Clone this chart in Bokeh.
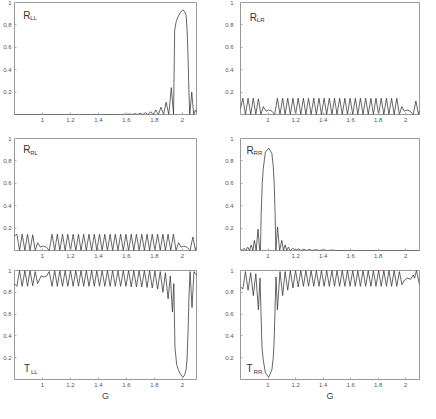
from bokeh.plotting import figure
from bokeh.layouts import gridplot
from bokeh.models import Range1d, FixedTicker, Label, CustomJSTickFormatter
from bokeh.embed import file_html
from bokeh.resources import INLINE

# ---------------- data ----------------
X_TICKS = [1.0, 1.2, 1.4, 1.6, 1.8, 2.0]
Y_TICKS = [0.2, 0.4, 0.6, 0.8, 1.0]

# R_LL
G_LL = [0.800, 1.570, 1.587, 1.605, 1.624, 1.642, 1.661, 1.680, 1.698, 1.717,
        1.735, 1.754, 1.772, 1.790, 1.809, 1.828, 1.846, 1.865, 1.883, 1.902,
        1.920, 1.936, 1.944, 1.955, 1.967, 1.985, 2.002, 2.015, 2.026, 2.033,
        2.040, 2.046, 2.052, 2.066, 2.080, 2.092, 2.100]
V_LL = [0.0, 0.0, 0.003, 0.0, 0.005, 0.0, 0.008, 0.0, 0.012, 0.0,
        0.017, 0.0, 0.025, 0.0, 0.04, 0.0, 0.065, 0.0, 0.11, 0.0,
        0.24, 0.0, 0.75, 0.83, 0.87, 0.91, 0.935, 0.92, 0.886, 0.75,
        0.5, 0.2, 0.0, 0.2, 0.0, 0.04, 0.02]

# R_LR
G_LR = [0.800, 0.817, 0.836, 0.855, 0.874, 0.893, 0.911, 0.930, 0.948, 0.965,
        0.985, 1.005, 1.028, 1.048,
        1.068, 1.087, 1.106, 1.124, 1.143, 1.162, 1.181, 1.200, 1.219, 1.238,
        1.257, 1.275, 1.294, 1.313, 1.332, 1.351, 1.370, 1.388, 1.407, 1.426,
        1.445, 1.464, 1.483, 1.501, 1.520, 1.539, 1.558, 1.577, 1.596, 1.615,
        1.634, 1.652, 1.671, 1.690, 1.709, 1.728, 1.747, 1.765, 1.784, 1.803,
        1.822, 1.841, 1.860, 1.878, 1.897, 1.916, 1.935,
        1.954, 1.972, 1.990, 2.010, 2.032, 2.054, 2.074, 2.093, 2.100]
V_LR = [0.05, 0.145, 0.0, 0.145, 0.0, 0.145, 0.0, 0.14, 0.0, 0.07,
        0.03, 0.04, 0.03, 0.0,
        0.145, 0.0, 0.145, 0.0, 0.145, 0.0, 0.145, 0.0, 0.145, 0.0,
        0.145, 0.0, 0.145, 0.0, 0.145, 0.0, 0.145, 0.0, 0.145, 0.0,
        0.145, 0.0, 0.145, 0.0, 0.145, 0.0, 0.145, 0.0, 0.145, 0.0,
        0.145, 0.0, 0.145, 0.0, 0.145, 0.0, 0.145, 0.0, 0.145, 0.0,
        0.145, 0.0, 0.145, 0.0, 0.145, 0.0, 0.145,
        0.0, 0.07, 0.03, 0.04, 0.03, 0.0, 0.12, 0.0, 0.03]

# R_RL
G_RL = [0.800, 0.817, 0.836, 0.855, 0.874, 0.893, 0.911, 0.930, 0.948, 0.965,
        0.985, 1.005, 1.028, 1.048,
        1.068, 1.087, 1.106, 1.124, 1.143, 1.162, 1.181, 1.200, 1.219, 1.238,
        1.257, 1.275, 1.294, 1.313, 1.332, 1.351, 1.370, 1.388, 1.407, 1.426,
        1.445, 1.464, 1.483, 1.501, 1.520, 1.539, 1.558, 1.577, 1.596, 1.615,
        1.634, 1.652, 1.671, 1.690, 1.709, 1.728, 1.747, 1.765, 1.784, 1.803,
        1.822, 1.841, 1.860, 1.878, 1.897, 1.916, 1.935,
        1.954, 1.972, 1.990, 2.010, 2.032, 2.054, 2.074, 2.093, 2.100]
V_RL = [0.13, 0.145, 0.0, 0.145, 0.0, 0.145, 0.0, 0.14, 0.0, 0.07,
        0.03, 0.04, 0.03, 0.0,
        0.145, 0.0, 0.145, 0.0, 0.145, 0.0, 0.145, 0.0, 0.145, 0.0,
        0.145, 0.0, 0.145, 0.0, 0.145, 0.0, 0.145, 0.0, 0.145, 0.0,
        0.145, 0.0, 0.145, 0.0, 0.145, 0.0, 0.145, 0.0, 0.145, 0.0,
        0.145, 0.0, 0.145, 0.0, 0.145, 0.0, 0.145, 0.0, 0.145, 0.0,
        0.145, 0.0, 0.145, 0.0, 0.145, 0.0, 0.145,
        0.0, 0.07, 0.03, 0.04, 0.03, 0.0, 0.12, 0.0, 0.03]

# R_RR
G_RR = [0.800, 0.812, 0.826, 0.840, 0.853, 0.866, 0.878, 0.890, 0.901, 0.914,
        0.927, 0.940, 0.945, 0.950, 0.958, 0.965, 0.981, 1.005, 1.028, 1.038,
        1.045, 1.052, 1.057, 1.069, 1.084, 1.100, 1.112, 1.124, 1.136, 1.148,
        1.162, 1.180, 1.200, 1.220, 1.240, 1.260, 1.280, 1.300, 1.320, 1.345,
        1.370, 1.400, 1.430, 1.460, 1.500, 2.100]
V_RR = [0.01, 0.0, 0.02, 0.0, 0.03, 0.0, 0.05, 0.0, 0.09, 0.0,
        0.19, 0.0, 0.0, 0.32, 0.6, 0.73, 0.88, 0.915, 0.865, 0.75,
        0.59, 0.3, 0.0, 0.21, 0.0, 0.09, 0.0, 0.05, 0.0, 0.03,
        0.0, 0.02, 0.0, 0.015, 0.0, 0.012, 0.0, 0.01, 0.0, 0.008,
        0.0, 0.006, 0.0, 0.004, 0.0, 0.0]

# T_LL
G_TLL = [0.800, 0.817, 0.836, 0.855, 0.874, 0.893, 0.911, 0.930, 0.948, 0.965,
         0.990, 1.010, 1.030, 1.048,
         1.068, 1.087, 1.106, 1.124, 1.143, 1.162, 1.181, 1.200, 1.219, 1.238,
         1.257, 1.275, 1.294, 1.313, 1.332, 1.351, 1.370, 1.388, 1.407, 1.426,
         1.445, 1.464, 1.483, 1.501, 1.520, 1.539, 1.558, 1.577, 1.596, 1.615,
         1.634, 1.652, 1.671, 1.690, 1.709, 1.728, 1.747, 1.765, 1.784, 1.803,
         1.822, 1.841, 1.860, 1.878, 1.897,
         1.913, 1.928, 1.938, 1.946, 1.958, 1.970, 1.985, 2.002, 2.015, 2.026,
         2.033, 2.040, 2.046, 2.054, 2.068, 2.082, 2.093, 2.100]
V_TLL = [0.88, 0.855, 1.0, 0.855, 1.0, 0.855, 1.0, 0.86, 0.99, 0.88,
         0.95, 0.94, 0.95, 0.99,
         0.855, 1.0, 0.855, 1.0, 0.855, 1.0, 0.855, 1.0, 0.855, 1.0,
         0.855, 1.0, 0.855, 1.0, 0.855, 1.0, 0.855, 1.0, 0.855, 1.0,
         0.855, 1.0, 0.855, 1.0, 0.855, 1.0, 0.855, 1.0, 0.855, 1.0,
         0.85, 1.0, 0.85, 1.0, 0.85, 1.0, 0.845, 1.0, 0.84, 0.995,
         0.83, 0.99, 0.80, 0.98, 0.74,
         0.95, 0.62, 0.88, 0.30, 0.14, 0.09, 0.05, 0.02, 0.04, 0.09,
         0.2, 0.45, 0.75, 0.99, 0.66, 0.99, 0.97, 0.96]

# T_RR
G_TRR = [0.800, 0.817, 0.836, 0.855, 0.874, 0.893, 0.911, 0.930, 0.942, 0.949,
         0.956, 0.965, 0.981, 1.005, 1.028, 1.038, 1.045, 1.052, 1.058,
         1.068, 1.087, 1.106, 1.124, 1.143, 1.162, 1.181, 1.200, 1.219, 1.238,
         1.257, 1.275, 1.294, 1.313, 1.332, 1.351, 1.370, 1.388, 1.407, 1.426,
         1.445, 1.464, 1.483, 1.501, 1.520, 1.539, 1.558, 1.577, 1.596, 1.615,
         1.634, 1.652, 1.671, 1.690, 1.709, 1.728, 1.747, 1.765, 1.784, 1.803,
         1.822, 1.841, 1.860, 1.878, 1.897, 1.916, 1.935,
         1.954, 1.972, 1.990, 2.010, 2.035, 2.055, 2.064, 2.078, 2.100]
V_TRR = [0.85, 0.83, 0.99, 0.82, 0.98, 0.77, 0.97, 0.64, 0.93, 0.6,
         0.3, 0.18, 0.06, 0.02, 0.09, 0.2, 0.38, 0.7, 0.94,
         0.64, 0.99, 0.77, 0.99, 0.82, 1.0, 0.84, 1.0, 0.85, 1.0,
         0.855, 1.0, 0.855, 1.0, 0.855, 1.0, 0.855, 1.0, 0.855, 1.0,
         0.855, 1.0, 0.855, 1.0, 0.855, 1.0, 0.855, 1.0, 0.855, 1.0,
         0.855, 1.0, 0.855, 1.0, 0.855, 1.0, 0.855, 1.0, 0.855, 1.0,
         0.855, 1.0, 0.855, 1.0, 0.855, 1.0, 0.855,
         0.99, 0.87, 0.91, 0.93, 0.92, 0.96, 0.93, 1.0, 0.87]

FONT = "Liberation Sans"


def panel(g, v, main, sub, lx, ly, width, left, right, height, top, bottom,
          standoff, xlabel=False):
    p = figure(width=width, height=height,
               x_range=Range1d(0.8, 2.1), y_range=Range1d(0.0, 1.0),
               output_backend="svg", toolbar_location=None,
               min_border_left=left, min_border_right=right,
               min_border_top=top, min_border_bottom=bottom)
    p.line(g, v, line_color="#333333", line_width=0.75)
    p.xaxis.ticker = FixedTicker(ticks=X_TICKS)
    p.yaxis.ticker = FixedTicker(ticks=Y_TICKS)
    fmt = CustomJSTickFormatter(code="return String(Math.round(tick*10)/10);")
    p.xaxis.formatter = fmt
    p.yaxis.formatter = fmt
    p.axis.major_label_text_font = FONT
    p.axis.major_label_text_font_size = "6px"
    p.axis.major_label_text_color = "#555555"
    p.axis.axis_line_color = None
    p.axis.major_tick_in = 2
    p.axis.major_tick_out = 0
    p.axis.major_tick_line_color = "#aaaaaa"
    p.axis.minor_tick_line_color = None
    p.xaxis.major_label_standoff = 3
    p.yaxis.major_label_standoff = standoff
    p.grid.visible = False
    p.outline_line_color = "#999999"
    p.outline_line_width = 1
    p.add_layout(Label(x=lx, y=ly, text=main, text_font=FONT,
                       text_font_size="10px", text_color="#333333",
                       text_baseline="alphabetic"))
    p.add_layout(Label(x=lx, y=ly, text=sub, text_font=FONT,
                       text_font_size="6px", text_color="#333333",
                       x_offset=7, y_offset=-3, text_baseline="alphabetic"))
    if xlabel:
        ax = p.xaxis[0]
        ax.axis_label = "G"
        ax.axis_label_text_font = FONT
        ax.axis_label_text_font_size = "9px"
        ax.axis_label_text_font_style = "normal"
        ax.axis_label_text_color = "#444444"
        ax.axis_label_standoff = 1
    return p


LW, LL, LR = 218, 12, 22
RW, RL, RR = 202, 22, 1

p1 = panel(G_LL, V_LL, "R", "LL", 0.862, 0.886, LW, LL, LR, 132, 2, 18, 3)
p2 = panel(G_LR, V_LR, "R", "LR", 0.868, 0.87, RW, RL, RR, 132, 2, 18, 7)
p3 = panel(G_RL, V_RL, "R", "RL", 0.862, 0.90, LW, LL, LR, 132, 6, 14, 3)
p4 = panel(G_RR, V_RR, "R", "RR", 0.844, 0.895, RW, RL, RR, 132, 6, 14, 7)
p5 = panel(G_TLL, V_TLL, "T", "LL", 0.868, 0.10, LW, LL, LR, 139, 6, 21, 3, True)
p6 = panel(G_TRR, V_TRR, "T", "RR", 0.844, 0.10, RW, RL, RR, 139, 6, 21, 7, True)

grid = gridplot([[p1, p2], [p3, p4], [p5, p6]], toolbar_location=None)

open("out.html", "w").write(file_html(grid, INLINE))
